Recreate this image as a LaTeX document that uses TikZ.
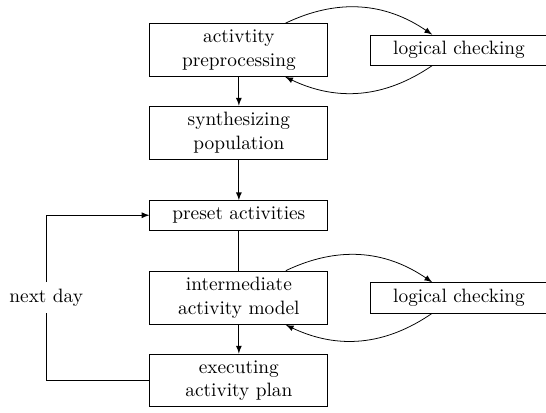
\documentclass[tikz,border=0pt]{standalone}
\usepackage{tikz}
\usetikzlibrary{arrows}

\begin{document}
\begin{tikzpicture}[>=latex, box/.style={draw, text width=3cm, align=center}]
\useasboundingbox (-4.34,0.91) rectangle (5.58,-6.58);
\node[box] (prep) at (0,0) {activtity\\ preprocessing};
\node[box] (synth) at (0,-1.5) {synthesizing\\ population};
\node[box] (preset) at (0,-3) {preset activities};
\node[box] (inter) at (0,-4.5) {intermediate\\ activity model};
\node[box] (exec) at (0,-6) {executing\\ activity plan};
\node[box] (checkA) at (4,0) {logical checking};
\node[box] (checkB) at (4,-4.5) {logical checking};
\node (nextday) at (-3.5,-4.5) {next day};

\draw[->] (prep) -- (synth);
\draw[->] (synth) -- (preset);
\draw (preset) -- (inter);
\draw[->] (inter) -- (exec);
\draw[->] (prep) to[bend left] (checkA);
\draw[->] (checkA) to[bend left] (prep);
\draw[->] (inter) to[bend left] (checkB);
\draw[->] (checkB) to[bend left] (inter);
\draw (exec.west) -| (nextday.south);
\draw[->] (nextday.north) |- (preset.west);
\end{tikzpicture}
\end{document}
